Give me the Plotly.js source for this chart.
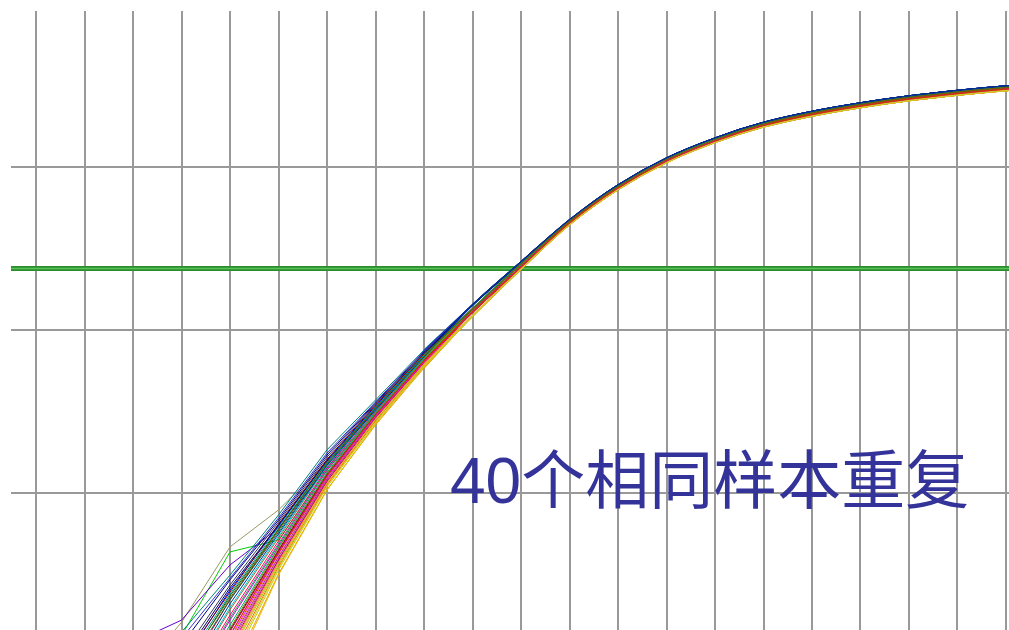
<!DOCTYPE html>
<html>
<head>
<meta charset="utf-8">
<script src="https://cdn.plot.ly/plotly-3.0.1.min.js"></script>
<style>
  html, body { margin: 0; padding: 0; background: #ffffff; }
  #chart { width: 1009px; height: 630px; }
</style>
</head>
<body>
<div id="chart"></div>
<script>
// Amplification run: 40 replicate wells of one sample, normalised reporter signal per cycle.
const cycles = [11, 12, 13, 14, 15, 16, 17, 18, 19, 20, 21, 22, 23, 24, 25, 26, 27, 28, 29, 30, 31];

// Early, noisy part of each well (cycles 11-18)
const earlyCurves = [
  [0.000404, 0.000712, 0.00161, 0.00467, 0.00787, 0.0155, 0.0323, 0.0674],
  [0.000305, 0.000536, 0.00133, 0.00435, 0.00515, 0.0138, 0.0305, 0.0655],
  [0.000944, 0.00121, 0.00166, 0.00362, 0.00610, 0.0142, 0.0332, 0.0693],
  [0.000131, 0.000404, 0.00117, 0.00293, 0.00683, 0.0171, 0.0357, 0.0733],
  [0.0000645, 0.000230, 0.000712, 0.00221, 0.00593, 0.0155, 0.0332, 0.0703],
  [0.000173, 0.000536, 0.00140, 0.00314, 0.00733, 0.0184, 0.0372, 0.0754],
  [0.0000318, 0.000131, 0.000536, 0.00166, 0.00480, 0.0138, 0.0314, 0.0674],
  [0.0000570, 0.000199, 0.000618, 0.00192, 0.00530, 0.0146, 0.0323, 0.0684],
  [0.0000157, 0.0000810, 0.000351, 0.00125, 0.00411, 0.0124, 0.0297, 0.0637],
  [0.0000990, 0.000305, 0.000880, 0.00254, 0.00627, 0.0159, 0.0342, 0.0713],
  [0.0000420, 0.000150, 0.000466, 0.00144, 0.00447, 0.0131, 0.0305, 0.0655],
  [0.0000240, 0.0000990, 0.000377, 0.00109, 0.00377, 0.0117, 0.0288, 0.0619],
  [0.0000740, 0.000265, 0.000797, 0.00234, 0.00601, 0.0153, 0.0328, 0.0693],
  [0.0000087, 0.0000570, 0.000230, 0.000844, 0.00337, 0.0109, 0.0269, 0.0593],
  [0.0000490, 0.000173, 0.000576, 0.00178, 0.00508, 0.0142, 0.0318, 0.0674],
  [0.000114, 0.000351, 0.00101, 0.00273, 0.00664, 0.0166, 0.0352, 0.0723],
  [0.0000175, 0.0000810, 0.000327, 0.00117, 0.00393, 0.0120, 0.0293, 0.0628],
  [0.0000370, 0.000131, 0.000500, 0.00155, 0.00467, 0.0134, 0.0310, 0.0664],
  [0.0000078, 0.0000420, 0.000199, 0.000764, 0.00319, 0.0105, 0.0261, 0.0584],
  [0.0000860, 0.000284, 0.000918, 0.00247, 0.00645, 0.0161, 0.0347, 0.0713],
  [0.0000135, 0.0000690, 0.000284, 0.00101, 0.00362, 0.0114, 0.0280, 0.0610],
  [0.0000300, 0.000122, 0.000434, 0.00135, 0.00435, 0.0127, 0.0301, 0.0646],
  [0.000150, 0.000453, 0.00128, 0.00301, 0.00703, 0.0176, 0.0362, 0.0743],
  [0.0000460, 0.000161, 0.000551, 0.00171, 0.00494, 0.0140, 0.0314, 0.0674],
  [0.0000210, 0.0000900, 0.000361, 0.00121, 0.00405, 0.0122, 0.0293, 0.0637],
  [0.0000690, 0.000230, 0.000753, 0.00221, 0.00577, 0.0150, 0.0328, 0.0693],
  [0.0000120, 0.0000645, 0.000258, 0.000944, 0.00352, 0.0112, 0.0276, 0.0602],
  [0.0000390, 0.000140, 0.000479, 0.00148, 0.00460, 0.0132, 0.0305, 0.0655],
  [0.000106, 0.000328, 0.000944, 0.00262, 0.00636, 0.0157, 0.0337, 0.0703],
  [0.0000170, 0.0000750, 0.000314, 0.00112, 0.00388, 0.0118, 0.0288, 0.0628],
  [0.0000530, 0.000186, 0.000636, 0.00198, 0.00545, 0.0146, 0.0323, 0.0684],
  [0.0000067, 0.0000370, 0.000186, 0.000712, 0.00314, 0.0104, 0.0265, 0.0593],
  [0.0000340, 0.000131, 0.000453, 0.00140, 0.00441, 0.0129, 0.0301, 0.0646],
  [0.0000920, 0.000296, 0.000844, 0.00240, 0.00618, 0.0155, 0.0337, 0.0703],
  [0.0000145, 0.0000710, 0.000296, 0.00106, 0.00372, 0.0115, 0.0284, 0.0619],
  [0.0000600, 0.000214, 0.000673, 0.00209, 0.00561, 0.0148, 0.0323, 0.0684],
  [0.0000260, 0.000106, 0.000404, 0.00128, 0.00423, 0.0125, 0.0297, 0.0637],
  [0.0000800, 0.000273, 0.000820, 0.00227, 0.00593, 0.0153, 0.0332, 0.0693],
  [0.0000110, 0.0000600, 0.000242, 0.000893, 0.00346, 0.0110, 0.0272, 0.0602],
  [0.0000280, 0.000114, 0.000416, 0.00133, 0.00429, 0.0127, 0.0301, 0.0646]
];

// Exponential-to-plateau part (cycles 19-31); the wells run in four tight groups
const lateUpper  = [0.1424, 0.2613, 0.4730, 0.7755, 1.1356, 1.5063, 1.8750, 2.1902, 2.4696, 2.7264, 2.9466, 3.1400, 3.2991];
const lateMid    = [0.1345, 0.2540, 0.4631, 0.7593, 1.1118, 1.4747, 1.8357, 2.1443, 2.4179, 2.6692, 2.8848, 3.0743, 3.2300];
const lateLow    = [0.1290, 0.2435, 0.4534, 0.7433, 1.0885, 1.4438, 1.7972, 2.0994, 2.3672, 2.6133, 2.8244, 3.0097, 3.1623];
const lateLowest = [0.1219, 0.2367, 0.4439, 0.7278, 1.0656, 1.4135, 1.7595, 2.0554, 2.3176, 2.5585, 2.7651, 2.9466, 3.0961];
const lateGroups = [lateUpper, lateMid, lateLow, lateLowest];

// Group of each well (0 = upper ... 3 = lowest)
const wellGroup = [1, 2, 0, 0, 1, 0, 2, 1, 3, 0,
                   2, 3, 1, 3, 2, 0, 2, 1, 3, 1,
                   3, 2, 0, 1, 2, 0, 3, 1, 0, 2,
                   1, 3, 2, 1, 3, 0, 2, 1, 3, 2];

const wellColors = [
  '#999966', '#00cc00', '#6600cc', '#000080', '#cc0000', '#008080', '#cc00cc', '#996633', '#ff9900', '#0000ff',
  '#990000', '#cc9900', '#006600', '#cccc00', '#ff0066', '#333366', '#cc3399', '#00a080', '#e6a000', '#800000',
  '#99cc00', '#ff3333', '#3333cc', '#339966', '#993399', '#006666', '#ff6600', '#669900', '#000066', '#cc0066',
  '#00cccc', '#e6b800', '#990066', '#009999', '#ff9933', '#003399', '#ff00ff', '#666600', '#cccc33', '#cc3300'
];

const thresholdLevel = 0.238;
const thresholdSpan = [9, 32];
const caption = '40个相同样本重复';

// Cycle where the noisy straight segments hand over to the smooth growth curve
const handoverIndex = 8;

const traces = [];

// Threshold: dark green band with a lighter core
traces.push({
  x: thresholdSpan, y: [thresholdLevel, thresholdLevel],
  mode: 'lines', line: { color: '#2a8f2a', width: 5 }, hoverinfo: 'skip'
});
traces.push({
  x: thresholdSpan, y: [thresholdLevel, thresholdLevel],
  mode: 'lines', line: { color: '#5cc05c', width: 1.5 }, hoverinfo: 'skip'
});

earlyCurves.forEach((early, i) => {
  const ys = early.concat(lateGroups[wellGroup[i]]);
  // early cycles as plain segments
  traces.push({
    x: cycles.slice(0, handoverIndex + 1),
    y: ys.slice(0, handoverIndex + 1),
    mode: 'lines',
    line: { color: wellColors[i], width: 1 },
    hoverinfo: 'skip'
  });
  // growth and plateau as a smooth curve
  traces.push({
    x: cycles.slice(handoverIndex - 1),
    y: ys.slice(handoverIndex - 1),
    mode: 'lines',
    line: { color: wellColors[i], width: 1.3, shape: 'spline', smoothing: 1 },
    hoverinfo: 'skip'
  });
});

const layout = {
  width: 1009,
  height: 630,
  margin: { l: 11, r: 0, t: 11, b: 0, pad: 0 },
  paper_bgcolor: '#ffffff',
  plot_bgcolor: '#ffffff',
  showlegend: false,
  xaxis: {
    range: [9.4845, 30.062],
    tick0: 0, dtick: 1,
    showgrid: true, gridcolor: '#999999', gridwidth: 2,
    zeroline: false, showline: false, showticklabels: false, ticks: ''
  },
  yaxis: {
    type: 'log',
    range: [-2.8405, 0.957],
    dtick: 1,
    showgrid: true, gridcolor: '#999999', gridwidth: 2,
    zeroline: false, showline: false, showticklabels: false, ticks: ''
  },
  annotations: [{
    text: caption,
    xref: 'paper', yref: 'paper',
    x: 0.7004, y: 0.2407,
    xanchor: 'center', yanchor: 'middle',
    showarrow: false,
    font: { family: 'Liberation Sans, Noto Sans CJK SC, sans-serif', size: 64, color: '#33339a' }
  }]
};

Plotly.newPlot('chart', traces, layout, { staticPlot: true, displayModeBar: false });
</script>
</body>
</html>
